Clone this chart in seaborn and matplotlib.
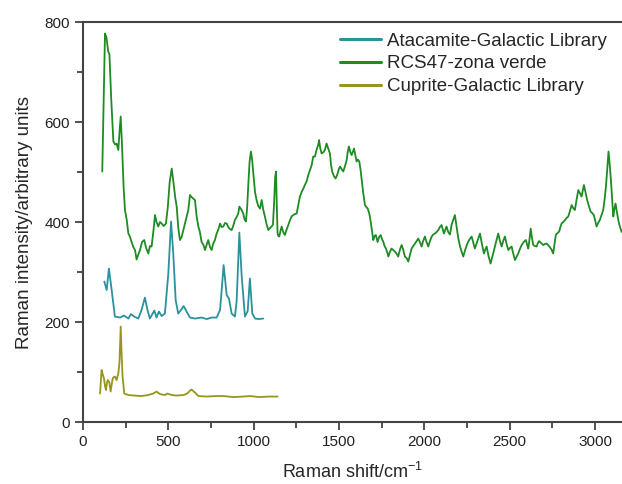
'''
Raman spectra of the green zone (RCS47) compared with
Galactic Library references for atacamite and cuprite.
'''

import numpy as np
import pandas as pd
import matplotlib.pyplot as plt
import matplotlib.ticker as mtick
import seaborn as sns


# --- data (shift in cm-1, intensity a.u.) ---
ATA_LABEL = 'Atacamite-Galactic Library'
RCS_LABEL = 'RCS47-zona verde'
CUP_LABEL = 'Cuprite-Galactic Library'

ata_shift = [125, 139, 152, 168, 187, 217, 240, 266, 281, 300, 324, 343, 363, 378,
             392, 418, 431, 445, 461, 480, 500, 516, 529, 543, 558, 574, 590, 607,
             627, 656, 695, 725, 754, 783, 803, 814, 824, 842, 855, 871, 890, 900,
             906, 916, 930, 949, 965, 978, 992, 1008, 1030, 1056]
ata_int = [281, 264, 307, 264, 211, 209, 213, 207, 216, 211, 207, 224, 249, 224,
           207, 223, 209, 221, 212, 217, 297, 401, 337, 244, 217, 224, 232, 221,
           209, 207, 209, 206, 209, 209, 224, 270, 314, 254, 247, 217, 211, 240,
           291, 379, 291, 211, 222, 287, 217, 207, 206, 207]

rcs_shift = [113, 129, 137, 148, 155, 165, 178, 188, 197, 207, 214, 221, 228, 238,
             246, 256, 266, 275, 281, 295, 305, 314, 324, 334, 346, 359, 370, 383,
             392, 402, 412, 422, 431, 441, 451, 461, 473, 486, 497, 508, 520, 530,
             540, 549, 558, 568, 578, 588, 600, 610, 617, 627, 636, 646, 656, 666,
             676, 685, 695, 705, 715, 725, 734, 744, 754, 763, 773, 783, 793, 803,
             812, 822, 832, 842, 851, 861, 871, 880, 890, 900, 910, 916, 928, 939,
             947, 955, 962, 968, 976, 984, 991, 998, 1008, 1017, 1027, 1037, 1047,
             1056, 1066, 1076, 1086, 1096, 1105, 1113, 1120, 1126, 1131, 1135, 1140,
             1145, 1150, 1157, 1164, 1173, 1183, 1193, 1203, 1212, 1222, 1232, 1242,
             1252, 1262, 1271, 1281, 1291, 1300, 1310, 1320, 1330, 1340, 1349, 1359,
             1369, 1379, 1383, 1390, 1398, 1410, 1418, 1427, 1436, 1447, 1453, 1460,
             1470, 1480, 1490, 1498, 1506, 1515, 1525, 1535, 1545, 1551, 1558, 1566,
             1574, 1581, 1588, 1595, 1603, 1611, 1619, 1626, 1633, 1642, 1652, 1660,
             1668, 1675, 1681, 1690, 1701, 1708, 1716, 1726, 1735, 1744, 1752, 1759,
             1767, 1775, 1782, 1789, 1798, 1808, 1818, 1828, 1838, 1847, 1857, 1867,
             1876, 1886, 1896, 1906, 1916, 1925, 1935, 1945, 1955, 1964, 1974, 1984,
             1993, 2003, 2013, 2023, 2033, 2043, 2052, 2062, 2072, 2082, 2091, 2101,
             2108, 2115, 2123, 2130, 2140, 2150, 2160, 2170, 2179, 2189, 2199, 2210,
             2219, 2228, 2240, 2252, 2264, 2277, 2286, 2296, 2311, 2326, 2338, 2349,
             2357, 2365, 2376, 2388, 2398, 2408, 2420, 2433, 2443, 2453, 2462, 2472,
             2482, 2492, 2501, 2511, 2521, 2531, 2540, 2550, 2560, 2570, 2582, 2595,
             2602, 2609, 2616, 2623, 2630, 2638, 2648, 2658, 2665, 2672, 2684, 2697,
             2706, 2716, 2725, 2735, 2745, 2755, 2762, 2770, 2780, 2790, 2797, 2804,
             2814, 2824, 2833, 2843, 2853, 2863, 2872, 2882, 2892, 2902, 2911, 2921,
             2928, 2935, 2944, 2954, 2964, 2974, 2983, 2993, 3001, 3009, 3018, 3028,
             3038, 3048, 3056, 3064, 3071, 3079, 3086, 3093, 3100, 3107, 3113, 3120,
             3128, 3136, 3145, 3155, 3165]
rcs_int = [501, 777, 770, 741, 735, 650, 561, 555, 557, 544, 580, 611, 560, 470,
           424, 405, 377, 371, 364, 350, 344, 325, 335, 344, 360, 364, 348, 337,
           352, 351, 380, 414, 400, 391, 400, 397, 392, 397, 430, 480, 507, 480,
           450, 431, 390, 364, 370, 384, 400, 415, 424, 454, 450, 447, 444, 411,
           391, 380, 360, 355, 344, 355, 364, 350, 344, 357, 364, 377, 385, 397,
           390, 391, 398, 397, 390, 386, 384, 392, 404, 410, 417, 431, 425, 417,
           405, 401, 430, 471, 520, 541, 525, 497, 460, 444, 432, 427, 444,
           425, 411, 395, 384, 388, 391, 395, 440, 490, 501, 440, 377,
           372, 371, 382, 391, 380, 374, 385, 394, 403, 411, 414, 416,
           417, 435, 451, 460, 467, 474, 481, 494, 504, 514, 531, 531,
           545, 555, 564, 548, 537, 540, 545, 557, 548, 537, 515, 501,
           492, 487, 495, 505, 511, 506, 501, 512, 524, 540, 551, 540,
           534, 540, 547, 535, 521, 525, 521, 505, 484, 458, 434, 430,
           427, 420, 411, 390, 364, 372, 374, 360, 370, 374, 366, 361,
           352, 347, 340, 331, 340, 347, 344, 341, 336, 331, 345, 354,
           345, 331, 328, 321, 335, 347, 352, 357, 362, 367, 360, 351,
           362, 371, 360, 351, 362, 371, 375, 377, 380, 384, 390, 394,
           385, 377, 385, 391, 380, 375, 395, 405, 414, 390, 367, 350,
           340, 331, 345, 357, 365, 371, 360, 347, 362, 377, 355, 337,
           345, 351, 332, 317, 330, 344, 360, 377, 362, 351, 362, 371,
           356, 344, 348, 351, 337, 324, 330, 337, 346, 354, 360, 364,
           355, 347, 365, 387, 370, 354, 352, 351, 358, 362, 358, 354,
           356, 357, 354, 350, 345, 337, 355, 374, 378, 381, 390, 397,
           400, 404, 408, 411, 422, 434, 428, 424, 445, 464, 458, 451,
           462, 474, 460, 444, 432, 421, 418, 414, 402, 391, 398, 404,
           414, 424, 445, 471, 505, 541, 515, 484, 448, 411, 425, 437,
           420, 404, 392, 381, 378]

cup_shift = [100, 109, 116, 123, 129, 135, 140, 145, 154, 162, 168, 174, 180, 187,
             197, 207, 214, 221, 227, 232, 242, 266, 300, 340, 383, 400, 412, 431,
             451, 465, 480, 494, 520, 549, 588, 605, 617, 630, 637, 646, 656, 676,
             725, 780, 822, 880, 940, 978, 1030, 1090, 1140]
cup_int = [57, 104, 95, 87, 72, 64, 78, 84, 80, 61, 75, 87, 90, 91,
           84, 97, 120, 191, 130, 91, 57, 54, 53, 52, 54, 56, 57, 61,
           56, 55, 54, 57, 54, 53, 54, 56, 59, 64, 65, 62, 59, 52,
           51, 52, 52, 50, 51, 52, 50, 51, 51]

x_ticks = [0, 500, 1000, 1500, 2000, 2500, 3000]
y_ticks = [0, 200, 400, 600, 800]

series_order = [ATA_LABEL, RCS_LABEL, CUP_LABEL]
palette = {ATA_LABEL: '#2b919c', RCS_LABEL: '#1f8b24', CUP_LABEL: '#96961e'}


if __name__ == '__main__':
    # 1) long-form table for seaborn
    df = pd.concat([
        pd.DataFrame({'shift': ata_shift, 'intensity': ata_int, 'sample': ATA_LABEL}),
        pd.DataFrame({'shift': rcs_shift, 'intensity': rcs_int, 'sample': RCS_LABEL}),
        pd.DataFrame({'shift': cup_shift, 'intensity': cup_int, 'sample': CUP_LABEL}),
    ], ignore_index=True)

    # 2) style
    sns.set_style('ticks')
    plt.rcParams['font.family'] = ['Liberation Sans', 'DejaVu Sans']
    plt.rcParams['mathtext.fontset'] = 'custom'
    plt.rcParams['mathtext.rm'] = 'Liberation Sans'
    plt.rcParams['mathtext.it'] = 'Liberation Sans:italic'

    fig = plt.figure(figsize=(6.22, 4.84), dpi=100)
    ax = fig.add_axes([0.1334, 0.128, 0.8666, 0.8265])

    sns.lineplot(data=df, x='shift', y='intensity', hue='sample',
                 hue_order=series_order, palette=palette,
                 estimator=None, sort=False, linewidth=1.3, ax=ax)

    # 3) axes settings
    ax.set_xlim(0, 3158)
    ax.set_ylim(0, 800)
    ax.set_xticks(x_ticks)
    ax.set_yticks(y_ticks)
    ax.xaxis.set_minor_locator(mtick.MultipleLocator(250))
    ax.yaxis.set_minor_locator(mtick.MultipleLocator(100))
    ax.tick_params(which='both', direction='out', colors='#333333',
                   labelcolor='#222222', labelsize=11, width=1.2)
    ax.tick_params(which='major', length=6)
    ax.tick_params(which='minor', length=4)

    for side in ['left', 'bottom', 'top']:
        ax.spines[side].set_color('#444444')
        ax.spines[side].set_linewidth(1.5)
    ax.spines['right'].set_visible(False)

    ax.set_xlabel('Raman shift/cm$^{-1}$', fontsize=13, labelpad=9)
    ax.set_ylabel('Raman intensity/arbitrary units', fontsize=13.5, labelpad=8)

    leg = ax.legend(loc='upper left', bbox_to_anchor=(0.547, 0.933),
                    bbox_transform=fig.transFigure, frameon=False,
                    fontsize=13.5, handlelength=2.2, handletextpad=0.3,
                    labelspacing=0.31, borderpad=0, borderaxespad=0)
    for line in leg.get_lines():
        line.set_linewidth(2.2)

    fig.savefig('out.png', dpi=100)
    plt.close(fig)
